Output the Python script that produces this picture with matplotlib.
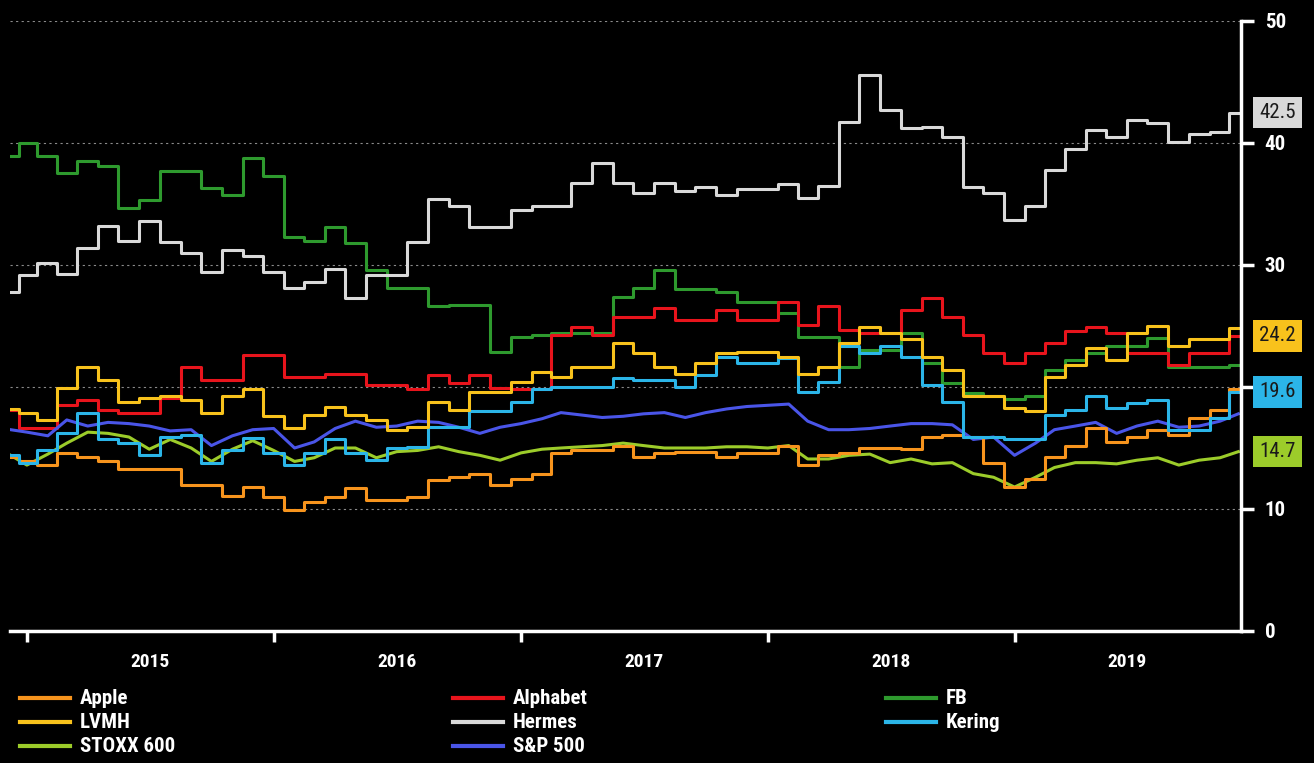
import matplotlib
matplotlib.use('Agg')
import matplotlib.pyplot as plt
from matplotlib import font_manager
from matplotlib.lines import Line2D
import pandas as pd

# monthly samples, Dec 2014 .. end Nov 2019
dates = pd.DatetimeIndex([pd.Timestamp('2014-12-08')]) \
    .append(pd.date_range('2015-01-01', '2019-11-01', freq='MS')) \
    .append(pd.DatetimeIndex([pd.Timestamp('2019-11-28')]))

apple = [14.3, 13.9, 13.6, 14.6, 14.3, 13.9, 13.3, 13.3, 13.3, 12.0, 12.0, 11.1, 11.8,
         11.0, 9.9, 10.6, 11.0, 11.7, 10.7, 10.7, 11.0, 12.4, 12.6, 12.9, 12.0,
         12.5, 12.9, 14.6, 14.8, 14.8, 15.2, 14.3, 14.6, 14.7, 14.7, 14.3, 14.6,
         14.6, 15.2, 13.6, 14.4, 14.6, 15.0, 15.0, 14.9, 15.9, 16.1, 15.9, 13.8,
         11.8, 12.5, 14.3, 15.2, 16.6, 15.5, 15.9, 16.5, 16.1, 17.5, 18.1, 19.8]
lvmh = [18.2, 17.9, 17.3, 19.9, 21.6, 20.6, 18.8, 19.1, 19.3, 18.9, 17.9, 19.3, 19.8,
        17.6, 16.6, 17.7, 18.4, 17.7, 17.3, 16.5, 16.7, 18.8, 18.1, 19.6, 19.6,
        20.4, 21.2, 20.8, 21.6, 21.6, 23.6, 22.8, 21.6, 21.1, 22.0, 22.8, 22.9,
        22.9, 22.5, 21.1, 21.6, 23.6, 24.9, 24.4, 23.9, 22.5, 21.4, 19.3, 19.3,
        18.3, 18.0, 20.8, 21.8, 23.2, 22.2, 24.4, 25.0, 23.4, 23.9, 23.9, 24.8]
stoxx = [14.4, 13.6, 14.5, 15.4, 16.3, 16.2, 15.9, 14.9, 15.7, 15.0, 13.9, 14.9, 15.6,
         14.8, 13.9, 14.2, 15.0, 15.0, 14.2, 14.7, 14.8, 15.1, 14.7, 14.4, 14.0,
         14.6, 14.9, 15.0, 15.1, 15.2, 15.4, 15.2, 15.0, 15.0, 15.0, 15.1, 15.1,
         15.0, 15.2, 14.1, 14.1, 14.4, 14.5, 13.8, 14.1, 13.7, 13.8, 12.9, 12.6,
         11.8, 12.6, 13.4, 13.8, 13.8, 13.7, 14.0, 14.2, 13.6, 14.0, 14.2, 14.7]
alphabet = [18.1, 16.6, 16.6, 18.5, 18.9, 18.1, 17.9, 17.9, 19.1, 21.6, 20.6, 20.6, 22.6,
            22.6, 20.8, 20.8, 21.1, 21.1, 20.2, 20.2, 19.8, 21.0, 20.3, 21.0, 19.9,
            19.8, 19.8, 24.3, 24.9, 24.3, 25.7, 25.7, 26.5, 25.5, 25.5, 26.3, 25.5,
            25.5, 27.0, 25.1, 26.6, 24.7, 24.4, 24.4, 26.3, 27.3, 25.7, 24.3, 22.8,
            22.0, 22.8, 23.6, 24.6, 24.9, 24.4, 22.8, 22.8, 21.8, 22.8, 22.8, 24.2]
hermes = [27.8, 29.2, 30.2, 29.3, 31.4, 33.2, 32.0, 33.6, 31.9, 31.0, 29.4, 31.2, 30.7,
          29.4, 28.1, 28.6, 29.7, 27.3, 29.2, 29.2, 31.9, 35.4, 34.8, 33.1, 33.1,
          34.5, 34.8, 34.8, 36.7, 38.4, 36.7, 35.9, 36.7, 36.1, 36.4, 35.7, 36.2,
          36.2, 36.6, 35.5, 36.5, 41.7, 45.6, 42.7, 41.2, 41.3, 40.5, 36.4, 35.9,
          33.7, 34.8, 37.8, 39.5, 41.1, 40.5, 41.9, 41.6, 40.1, 40.7, 40.9, 42.5]
sp500 = [16.5, 16.3, 16.0, 17.3, 16.8, 17.1, 17.0, 16.8, 16.4, 16.5, 15.2, 16.0, 16.5,
         16.6, 15.0, 15.5, 16.6, 17.2, 16.7, 16.8, 17.2, 17.1, 16.7, 16.2, 16.7,
         17.0, 17.4, 17.9, 17.7, 17.5, 17.6, 17.8, 17.9, 17.5, 17.9, 18.2, 18.4,
         18.5, 18.6, 17.2, 16.5, 16.5, 16.6, 16.8, 17.0, 17.0, 16.9, 15.7, 15.9,
         14.4, 15.4, 16.5, 16.8, 17.1, 16.2, 16.8, 17.2, 16.7, 16.8, 17.2, 17.8]
fb = [38.9, 40.0, 38.9, 37.5, 38.5, 38.1, 34.7, 35.3, 37.7, 37.7, 36.3, 35.7, 38.8,
      37.3, 32.3, 32.0, 33.1, 31.8, 29.6, 28.1, 28.1, 26.6, 26.7, 26.7, 22.9,
      24.1, 24.3, 24.4, 24.4, 24.4, 27.4, 28.1, 29.6, 28.0, 28.0, 27.8, 27.0,
      27.0, 26.1, 24.1, 24.1, 21.6, 23.0, 23.0, 24.4, 22.0, 20.3, 19.5, 19.3,
      19.0, 19.3, 21.4, 22.2, 22.8, 23.4, 23.4, 24.0, 21.6, 21.6, 21.6, 21.8]
kering = [14.4, 13.8, 14.8, 16.2, 17.9, 15.7, 15.4, 14.4, 15.9, 16.1, 13.8, 14.8, 15.8,
          14.6, 13.6, 14.6, 15.7, 14.6, 14.0, 15.0, 15.1, 16.7, 16.7, 18.0, 18.0,
          18.8, 19.8, 20.0, 20.0, 20.0, 20.7, 20.6, 20.6, 20.0, 21.0, 22.5, 22.0,
          22.0, 22.4, 19.6, 20.4, 23.4, 22.8, 23.4, 22.5, 20.2, 18.8, 15.9, 15.9,
          15.7, 15.7, 17.7, 18.1, 19.3, 18.3, 18.7, 18.9, 16.5, 16.5, 17.5, 19.6]

names = ['Apple', 'LVMH', 'STOXX 600', 'Alphabet', 'Hermes', 'S&P 500', 'FB', 'Kering']
series = [apple, lvmh, stoxx, alphabet, hermes, sp500, fb, kering]
colors = ['#f7941d', '#f8c21c', '#9ccc2a', '#e8141c', '#d9d9d9', '#4a55e8', '#2e9a2e', '#2bb5e8']
indices = ['STOXX 600', 'S&P 500']   # drawn as plain lines, the stocks as steps
end_labels = {'Hermes': '42.5', 'LVMH': '24.2', 'Kering': '19.6', 'STOXX 600': '14.7'}
years = [2015, 2016, 2017, 2018, 2019]

installed = {f.name for f in font_manager.fontManager.ttflist}
fam = [f for f in ['Liberation Sans Narrow', 'Roboto Condensed', 'Roboto', 'DejaVu Sans'] if f in installed]
plt.rcParams['font.family'] = fam

W, H = 1314, 763
fig = plt.figure(figsize=(W / 100, H / 100), dpi=100, facecolor='black')
ax = fig.add_axes([10 / W, 1 - 631 / H, (1241 - 10) / W, (631 - 21) / H])
ax.set_facecolor('black')

draw_order = ['FB', 'Hermes', 'Alphabet', 'S&P 500', 'STOXX 600', 'Apple', 'Kering', 'LVMH']
for name in draw_order:
    k = names.index(name)
    ds = 'default' if name in indices else 'steps-mid'
    ax.plot(dates, series[k], color=colors[k], lw=2.2, drawstyle=ds, zorder=2)

ax.set_xlim(pd.Timestamp('2014-12-07'), pd.Timestamp('2019-12-02'))
ax.set_ylim(0, 50)

for s in ['left', 'top']:
    ax.spines[s].set_visible(False)
for s in ['right', 'bottom']:
    ax.spines[s].set_color('white')
    ax.spines[s].set_linewidth(2.5)

ax.yaxis.tick_right()
ax.set_yticks([0, 10, 20, 30, 40, 50])
ax.tick_params(axis='y', colors='white', length=9, width=2.5, pad=8, labelsize=15)
for t in ax.get_yticklabels():
    t.set_fontweight('bold')
ax.grid(axis='y', color='#8a8a8a', linestyle=(0, (2, 3)), lw=0.8, zorder=0)

ax.set_xticks([pd.Timestamp(f'{y}-01-01') for y in years])
ax.set_xticklabels([])
ax.tick_params(axis='x', which='major', colors='white', length=8, width=2.5)
label_pos = [pd.Timestamp(f'{y}-07-02') for y in years[:-1]] + [pd.Timestamp('2019-06-17')]
ax.set_xticks(label_pos, minor=True)
ax.set_xticklabels([str(y) for y in years], minor=True, fontsize=14, fontweight='bold', color='white')
ax.tick_params(axis='x', which='minor', length=0, pad=16)

for name, txt in end_labels.items():
    k = names.index(name)
    ax.annotate(txt, xy=(1, float(txt)), xycoords=('axes fraction', 'data'),
                xytext=(13, 0), textcoords='offset points', ha='left', va='center',
                fontsize=15, color='#1a1a1a', annotation_clip=False, zorder=5,
                bbox=dict(boxstyle='square,pad=0.3', fc=colors[k], ec='none'))

# legend, three columns
col_x = [20, 453, 886]
row_y = [698, 722, 746]
for k, name in enumerate(names):
    c, r = k // 3, k % 3
    x0, y0 = col_x[c], row_y[r]
    fig.add_artist(Line2D([x0 / W, (x0 + 50) / W], [1 - y0 / H, 1 - y0 / H],
                          color=colors[k], lw=3, transform=fig.transFigure))
    fig.text((x0 + 60) / W, 1 - y0 / H, name, color='white', fontsize=15,
             fontweight='bold', va='center', ha='left')

fig.savefig('out.png', dpi=100, facecolor='black')
